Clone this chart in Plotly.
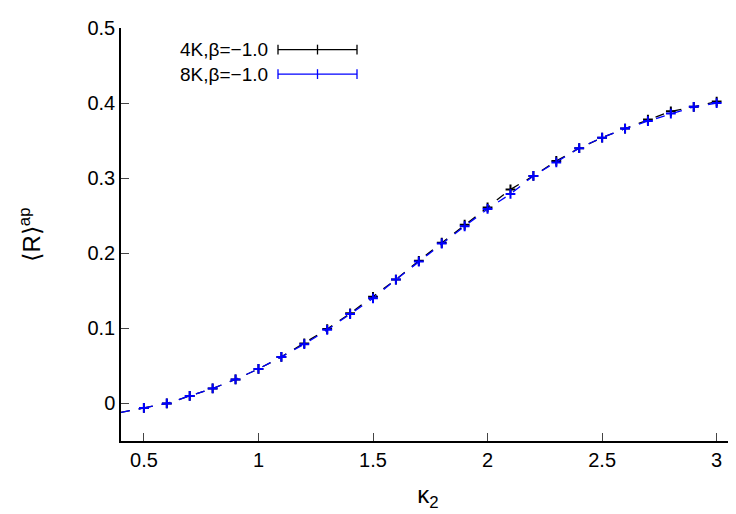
import plotly.graph_objects as go

kappa = [0.5, 0.6, 0.7, 0.8, 0.9, 1.0, 1.1, 1.2, 1.3, 1.4, 1.5, 1.6, 1.7,
         1.8, 1.9, 2.0, 2.1, 2.2, 2.3, 2.4, 2.5, 2.6, 2.7, 2.8, 2.9, 3.0]
r_4k = [-0.006, 0.000, 0.010, 0.020, 0.032, 0.046, 0.062, 0.080, 0.099, 0.120,
        0.142, 0.165, 0.190, 0.214, 0.238, 0.261, 0.285, 0.303, 0.323, 0.340,
        0.354, 0.366, 0.378, 0.389, 0.395, 0.402]
r_8k = [-0.006, 0.000, 0.010, 0.020, 0.032, 0.046, 0.062, 0.079, 0.098, 0.119,
        0.140, 0.165, 0.189, 0.213, 0.236, 0.259, 0.279, 0.303, 0.321, 0.340,
        0.354, 0.366, 0.376, 0.386, 0.395, 0.400]
# dashed curve continues to the left axis edge
ext_x = [0.4, 0.5]
ext_y = [-0.012, -0.006]

series = [("4K,β=−1.0", r_4k, "black"), ("8K,β=−1.0", r_8k, "#0000ff")]

ML, MR, MT, MB = 113, 9, 12, 81
PW, PH = 736 - ML - MR, 514 - MT - MB


def px(sx):
    return (sx - 8 - ML) / PW


def py(sy):
    return 1 - (sy - 8 - MT) / PH


fig = go.Figure()
for name, ys, col in series:
    fig.add_trace(go.Scatter(x=ext_x, y=ext_y, mode="lines", showlegend=False,
                             line=dict(color=col, width=1.3, dash="dash")))
    fig.add_trace(go.Scatter(x=kappa, y=ys, mode="lines+markers", name=name, showlegend=False,
                             line=dict(color=col, width=1.3, dash="dash"),
                             marker=dict(symbol="cross-thin", size=7, line=dict(color=col, width=2))))

# legend drawn by hand: label on the left, sample with error caps on the right
L, R = 278, 357
for i, (name, ys, col) in enumerate(series):
    yp = 42 + i * 25
    fig.add_annotation(x=px(L - 8), y=py(yp), xref="paper", yref="paper", yanchor="middle",
                       text=name, showarrow=False, xanchor="right", font=dict(size=19, color="black"))
    fig.add_shape(type="line", xref="paper", yref="paper", x0=px(L), x1=px(R), y0=py(yp), y1=py(yp),
                  line=dict(color=col, width=1.3))
    for xc in (L, R, (L + R) / 2):
        fig.add_shape(type="line", xref="paper", yref="paper", x0=px(xc), x1=px(xc),
                      y0=py(yp + 5), y1=py(yp - 5), line=dict(color=col, width=1.3))

fig.update_layout(
    width=736, height=514, plot_bgcolor="white", paper_bgcolor="white",
    margin=dict(l=ML, r=MR, t=MT, b=MB),
    font=dict(family="Liberation Sans", size=20, color="black"),
)
fig.update_xaxes(range=[0.4, 3.08], tickvals=[0.5, 1, 1.5, 2, 2.5, 3], ticktext=["0.5", "1", "1.5", "2", "2.5", "3"],
                 ticks="inside", ticklen=8, showline=True, linecolor="black", linewidth=1.5,
                 showgrid=False, zeroline=False, title=dict(text="κ<sub>2</sub>", standoff=16))
fig.update_yaxes(range=[-0.05, 0.5], tickvals=[0, 0.1, 0.2, 0.3, 0.4, 0.5], ticktext=["0", "0.1", "0.2", "0.3", "0.4", "0.5"],
                 ticks="inside", ticklen=8, showline=True, linecolor="black", linewidth=1.5,
                 showgrid=False, zeroline=False, title=dict(text="⟨R⟩<sup>ap</sup>", standoff=40))

fig.write_html("out.html")
